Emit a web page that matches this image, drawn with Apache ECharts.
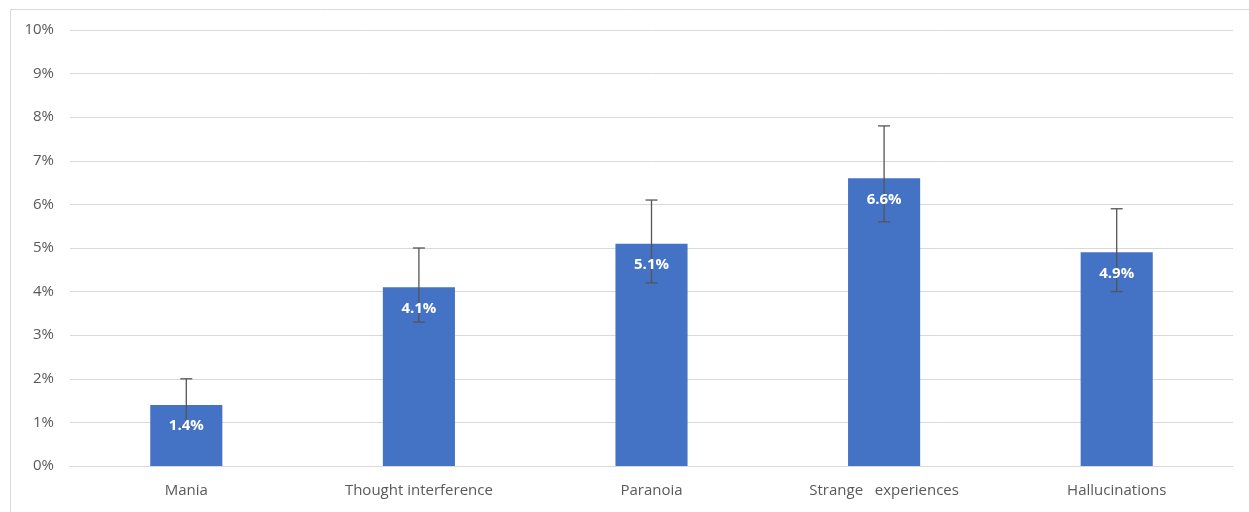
<!DOCTYPE html>
<html><head><meta charset="utf-8">
<script src="https://cdn.jsdelivr.net/npm/echarts@6/dist/echarts.min.js"></script>
<style>html,body{margin:0;padding:0;background:#fff}#c{width:1249px;height:512px}</style>
</head><body><div id="c"></div>
<script>
var categories = ['Mania', 'Thought interference', 'Paranoia', 'Strange   experiences', 'Hallucinations'];
var values = [1.4, 4.1, 5.1, 6.6, 4.9];
var errLow = [0.9, 3.3, 4.2, 5.6, 4.0];
var errHigh = [2.0, 5.0, 6.1, 7.8, 5.9];
var yTicks = [0, 1, 2, 3, 4, 5, 6, 7, 8, 9, 10];

var chart = echarts.init(document.getElementById('c'));
var errData = categories.map(function (c, i) { return [i, errLow[i], errHigh[i], values[i]]; });
var FF = 'Open Sans, sans-serif';
chart.setOption({
  animation: false,
  graphic: [{ type: 'rect', shape: { x: 10.5, y: 9.5, width: 1300, height: 600 }, style: { fill: 'none', stroke: '#d9d9d9', lineWidth: 1 } }],
  grid: { left: 70, right: 16, top: 30, bottom: 46, containLabel: false },
  xAxis: {
    type: 'category', data: categories,
    axisTick: { show: false },
    axisLine: { lineStyle: { color: '#d9d9d9' } },
    axisLabel: { color: '#595959', fontSize: 15, margin: 17, fontFamily: FF }
  },
  yAxis: {
    type: 'value', min: 0, max: 10, interval: 1,
    axisLabel: { color: '#595959', fontSize: 15, margin: 16, fontFamily: FF, formatter: function (v) { return v + '%'; } },
    splitLine: { lineStyle: { color: '#d9d9d9' } },
    axisLine: { show: false }, axisTick: { show: false }
  },
  series: [{
    type: 'bar', data: values, barWidth: '31%',
    itemStyle: { color: '#4472c4' },
    z: 2
  }, {
    type: 'custom', data: errData, z: 3,
    renderItem: function (params, api) {
      var x = api.value(0);
      var lo = api.coord([x, api.value(1)]);
      var hi = api.coord([x, api.value(2)]);
      var top = api.coord([x, api.value(3)]);
      var w = 6;
      var st = { stroke: '#555', lineWidth: 1.3 };
      return { type: 'group', children: [
        { type: 'line', shape: { x1: hi[0], y1: hi[1], x2: lo[0], y2: lo[1] }, style: st },
        { type: 'line', shape: { x1: hi[0] - w, y1: hi[1], x2: hi[0] + w, y2: hi[1] }, style: st },
        { type: 'line', shape: { x1: lo[0] - w, y1: lo[1], x2: lo[0] + w, y2: lo[1] }, style: st },
        { type: 'text', x: top[0], y: top[1] + 21, style: { text: api.value(3).toFixed(1) + '%', fill: '#fff', font: 'bold 15px ' + FF, align: 'center', verticalAlign: 'middle' } }
      ] };
    }
  }]
});
</script></body></html>
